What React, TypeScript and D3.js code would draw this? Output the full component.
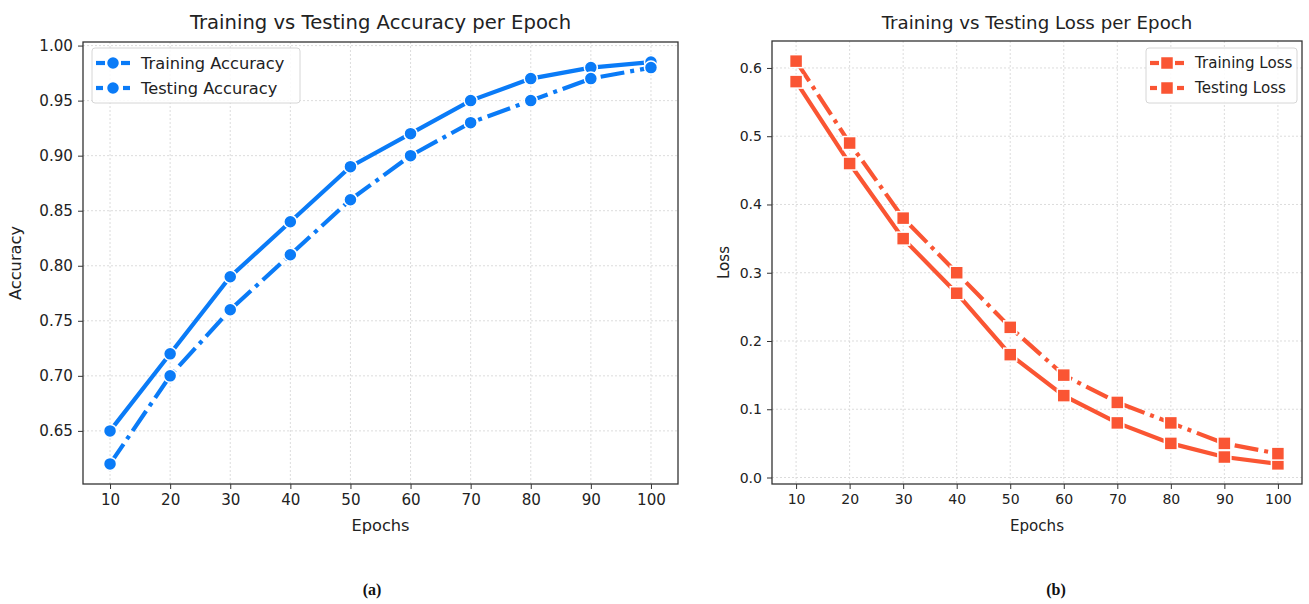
import React, { useEffect, useRef } from "react";
import * as d3 from "d3";

const epochs = [10, 20, 30, 40, 50, 60, 70, 80, 90, 100];
const trainAcc = [0.65, 0.72, 0.79, 0.84, 0.89, 0.92, 0.95, 0.97, 0.98, 0.985];
const testAcc = [0.62, 0.7, 0.76, 0.81, 0.86, 0.9, 0.93, 0.95, 0.97, 0.98];
const trainLoss = [0.58, 0.46, 0.35, 0.27, 0.18, 0.12, 0.08, 0.05, 0.03, 0.02];
const testLoss = [0.61, 0.49, 0.38, 0.3, 0.22, 0.15, 0.11, 0.08, 0.05, 0.035];
const accTicks = [0.65, 0.7, 0.75, 0.8, 0.85, 0.9, 0.95, 1.0];
const lossTicks = [0, 0.1, 0.2, 0.3, 0.4, 0.5, 0.6];

const BLUE = "#0a7bf7";
const ORANGE = "#fa5533";
const FONT = "DejaVu Sans, sans-serif";

type PanelCfg = {
  left: number; right: number; top: number; bottom: number;
  title: string; ylabel: string; ylabelX: number;
  train: number[]; test: number[]; yTicks: number[]; yFmt: (v: number) => string;
  color: string; marker: "circle" | "square";
  names: [string, string];
  legend: { x: number; y: number; w: number; h: number };
  caption: string; captionX: number; fs: number;
};

const panels: PanelCfg[] = [
  {
    left: 83, right: 678, top: 42, bottom: 484,
    title: "Training vs Testing Accuracy per Epoch", ylabel: "Accuracy", ylabelX: 21,
    train: trainAcc, test: testAcc, yTicks: accTicks, yFmt: d3.format(".2f"),
    color: BLUE, marker: "circle", names: ["Training Accuracy", "Testing Accuracy"],
    legend: { x: 92, y: 48, w: 208, h: 55 }, caption: "(a)", captionX: 372, fs: 1.12,
  },
  {
    left: 772, right: 1302, top: 41, bottom: 484,
    title: "Training vs Testing Loss per Epoch", ylabel: "Loss", ylabelX: 729,
    train: trainLoss, test: testLoss, yTicks: lossTicks, yFmt: d3.format(".1f"),
    color: ORANGE, marker: "square", names: ["Training Loss", "Testing Loss"],
    legend: { x: 1146, y: 48, w: 151, h: 55 }, caption: "(b)", captionX: 1056, fs: 1.04,
  },
];

export default function App() {
  const ref = useRef<SVGSVGElement>(null);
  useEffect(() => {
    const svg = d3.select(ref.current);
    svg.selectAll("*").remove();

    panels.forEach((p) => {
      const g = svg.append("g");
      const x = d3.scaleLinear().domain([5.5, 104.5]).range([p.left, p.right]);
      const all = p.train.concat(p.test);
      const lo = d3.min(all)!, hi = d3.max(all)!;
      const m = (hi - lo) * 0.05;
      const y = d3.scaleLinear().domain([lo - m, hi + m]).range([p.bottom, p.top]);

      // grid
      g.selectAll(".gx").data(epochs).join("line")
        .attr("x1", (d) => x(d)).attr("x2", (d) => x(d))
        .attr("y1", p.top).attr("y2", p.bottom)
        .attr("stroke", "#d8d8d8").attr("stroke-width", 0.9).attr("stroke-dasharray", "2,2");
      g.selectAll(".gy").data(p.yTicks).join("line")
        .attr("y1", (d) => y(d)).attr("y2", (d) => y(d))
        .attr("x1", p.left).attr("x2", p.right)
        .attr("stroke", "#d8d8d8").attr("stroke-width", 0.9).attr("stroke-dasharray", "2,2");

      // axes
      const xAxis = d3.axisBottom(x).tickValues(epochs).tickSize(5).tickPadding(5).tickFormat(d3.format("d"));
      const ax = g.append("g").attr("transform", `translate(0,${p.bottom})`).call(xAxis);
      const yAxis = d3.axisLeft(y).tickValues(p.yTicks).tickSize(5).tickPadding(5).tickFormat((d) => p.yFmt(d as number));
      const ay = g.append("g").attr("transform", `translate(${p.left},0)`).call(yAxis);
      [ax, ay].forEach((a) => {
        a.select(".domain").remove();
        a.selectAll("line").attr("stroke", "#333").attr("stroke-width", 1);
        a.selectAll("text").attr("fill", "#222").style("font-family", FONT).style("font-size", `${13.5 * p.fs}px`);
      });

      // frame
      g.append("rect").attr("x", p.left).attr("y", p.top)
        .attr("width", p.right - p.left).attr("height", p.bottom - p.top)
        .attr("fill", "none").attr("stroke", "#333").attr("stroke-width", 1.3);

      // lines
      const line = d3.line<number>().x((_, i) => x(epochs[i])).y((d) => y(d));
      g.append("path").attr("d", line(p.train)!).attr("fill", "none")
        .attr("stroke", p.color).attr("stroke-width", 4.2);
      g.append("path").attr("d", line(p.test)!).attr("fill", "none")
        .attr("stroke", p.color).attr("stroke-width", 4.2).attr("stroke-dasharray", "24,6,4,6");

      const drawMarkers = (vals: number[]) => {
        if (p.marker === "circle") {
          g.selectAll(null).data(vals).join("circle")
            .attr("cx", (_, i) => x(epochs[i])).attr("cy", (d) => y(d)).attr("r", 6.5)
            .attr("fill", p.color).attr("stroke", "#fff").attr("stroke-width", 1.5);
        } else {
          g.selectAll(null).data(vals).join("rect")
            .attr("x", (_, i) => x(epochs[i]) - 6.5).attr("y", (d) => y(d) - 6.5)
            .attr("width", 13).attr("height", 13)
            .attr("fill", p.color).attr("stroke", "#fff").attr("stroke-width", 1.5);
        }
      };
      drawMarkers(p.train);
      drawMarkers(p.test);

      // title and labels
      g.append("text").attr("x", (p.left + p.right) / 2).attr("y", 29)
        .attr("text-anchor", "middle").style("font-family", FONT).style("font-size", `${17.5 * p.fs}px`)
        .attr("fill", "#222").text(p.title);
      g.append("text").attr("x", (p.left + p.right) / 2).attr("y", 531)
        .attr("text-anchor", "middle").style("font-family", FONT).style("font-size", `${14.5 * p.fs}px`)
        .attr("fill", "#222").text("Epochs");
      g.append("text").attr("transform", `translate(${p.ylabelX},${(p.top + p.bottom) / 2}) rotate(-90)`)
        .attr("text-anchor", "middle").style("font-family", FONT).style("font-size", `${14.5 * p.fs}px`)
        .attr("fill", "#222").text(p.ylabel);

      // legend
      const L = p.legend;
      g.append("rect").attr("x", L.x).attr("y", L.y).attr("width", L.w).attr("height", L.h)
        .attr("rx", 3).attr("fill", "#fff").attr("fill-opacity", 0.85)
        .attr("stroke", "#d6d6d6").attr("stroke-width", 1);
      p.names.forEach((name, i) => {
        const cy = L.y + 15 + i * 25;
        const x0 = L.x + 4, x1 = L.x + 38, mx = (x0 + x1) / 2;
        const segs = i === 0 ? [[x0, mx - 8], [mx + 8, x1]] : [[x0, x0 + 7], [x1 - 7, x1]];
        segs.forEach(([a, b]) => {
          g.append("line").attr("x1", a).attr("x2", b).attr("y1", cy).attr("y2", cy)
            .attr("stroke", p.color).attr("stroke-width", 4.2);
        });
        if (p.marker === "circle") {
          g.append("circle").attr("cx", mx).attr("cy", cy).attr("r", 6.5)
            .attr("fill", p.color).attr("stroke", "#fff").attr("stroke-width", 1.5);
        } else {
          g.append("rect").attr("x", mx - 6.5).attr("y", cy - 6.5).attr("width", 13).attr("height", 13)
            .attr("fill", p.color).attr("stroke", "#fff").attr("stroke-width", 1.5);
        }
        g.append("text").attr("x", L.x + 49).attr("y", cy).attr("dy", "0.35em")
          .style("font-family", FONT).style("font-size", `${14.5 * p.fs}px`).attr("fill", "#222").text(name);
      });

      // caption
      svg.append("text").attr("x", p.captionX).attr("y", 595).attr("text-anchor", "middle")
        .style("font-family", "Liberation Serif, serif").style("font-size", "16px")
        .style("font-weight", "bold").attr("fill", "#111").text(p.caption);
    });
  }, []);

  return (
    <svg ref={ref} width={1309} height={604}
      style={{ position: "absolute", left: 0, top: 0, background: "#fff" }} />
  );
}
